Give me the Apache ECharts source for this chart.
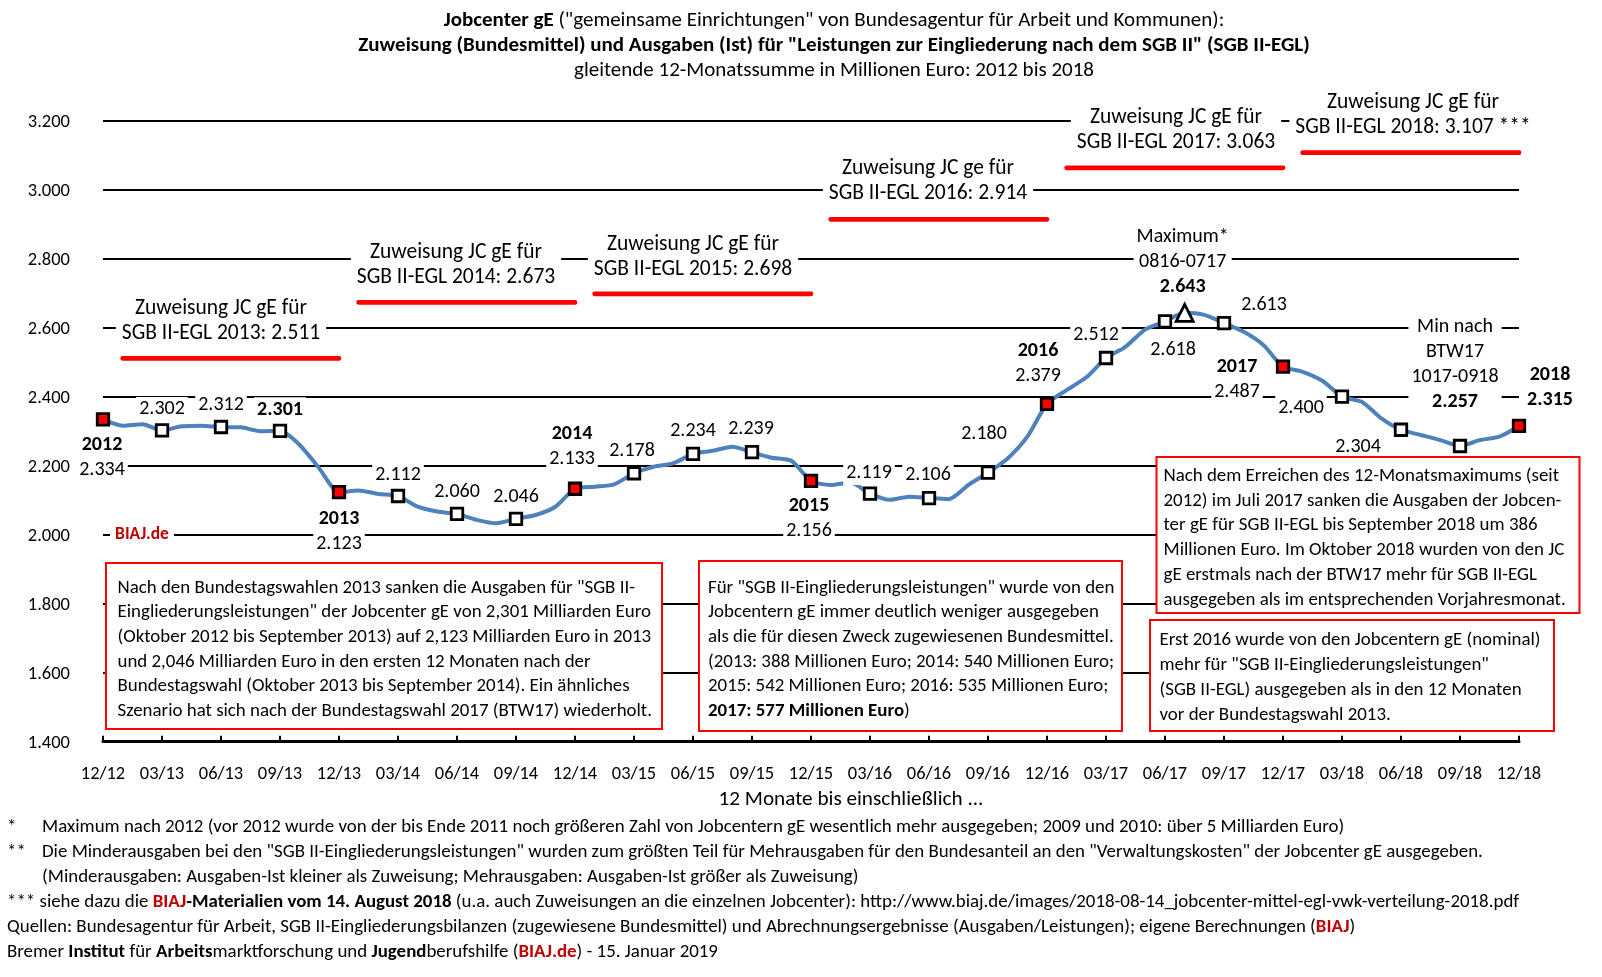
<!DOCTYPE html>
<html><head><meta charset="utf-8">
<script src="https://cdn.jsdelivr.net/npm/echarts@6/dist/echarts.min.js"></script>
<style>html,body{margin:0;padding:0;background:#fff}#c{width:1602px;height:977px}</style>
</head><body><div id="c"></div>
<script>
// ---------- DATA ----------
const months = ['12/12','01/13','02/13','03/13','04/13','05/13','06/13','07/13','08/13','09/13','10/13','11/13',
'12/13','01/14','02/14','03/14','04/14','05/14','06/14','07/14','08/14','09/14','10/14','11/14',
'12/14','01/15','02/15','03/15','04/15','05/15','06/15','07/15','08/15','09/15','10/15','11/15',
'12/15','01/16','02/16','03/16','04/16','05/16','06/16','07/16','08/16','09/16','10/16','11/16',
'12/16','01/17','02/17','03/17','04/17','05/17','06/17','07/17','08/17','09/17','10/17','11/17',
'12/17','01/18','02/18','03/18','04/18','05/18','06/18','07/18','08/18','09/18','10/18','11/18','12/18'];
const ausgaben = [2334,2316,2320,2302,2314,2316,2312,2311,2300,2301,2260,2192,
2123,2128,2118,2112,2081,2067,2060,2043,2033,2046,2057,2081,
2133,2139,2146,2178,2197,2207,2234,2243,2255,2239,2223,2214,
2156,2144,2151,2119,2101,2110,2106,2103,2144,2180,2221,2284,
2379,2419,2456,2512,2545,2595,2618,2643,2637,2613,2588,2550,
2487,2472,2446,2400,2385,2337,2304,2289,2274,2257,2274,2284,2315];
const zuweisungYears = ['2013','2014','2015','2016','2017','2018'];
const zuweisungValues = [2511,2673,2698,2914,3063,3107];
const zuweisungSuffix = ['','','','','',' ***'];
const zuweisungPrefix = ['Zuweisung JC gE für','Zuweisung JC gE für','Zuweisung JC gE für','Zuweisung JC ge für','Zuweisung JC gE für','Zuweisung JC gE für'];
const yearMarkers = {'12/12':'2012','12/13':'2013','12/14':'2014','12/15':'2015','12/16':'2016','12/17':'2017','12/18':'2018'};
const textNotes = {'07/17':['Maximum*','0816-0717'],'09/18':['Min nach','BTW17','1017-0918']};
const boldValues = ['09/13','07/17','09/18','12/18'];
const maxMonth = '07/17';
const yTicks = [1400,1600,1800,2000,2200,2400,2600,2800,3000,3200];

// ---------- LAYOUT / STYLE ----------
const FF = "Carlito,'Liberation Sans Narrow',sans-serif";
const labelOffset = {
 '12/12':[-1,38],'03/13':[0,-21],'06/13':[0,-22],'09/13':[0,-21],'12/13':[0,39],
 '03/14':[0,-21],'06/14':[0,-22],'09/14':[0,-22],'12/14':[-3,-42],'03/15':[-2,-22],
 '06/15':[0,-23],'09/15':[-1,-23],'12/15':[-2,38],'03/16':[-1,-21],'06/16':[-1,-23],
 '09/16':[-4,-39],'12/16':[-9,-40],'03/17':[-10,-23],'06/17':[8,29],'07/17':[-2,-51],
 '09/17':[40,-18],'12/17':[-46,13],'03/18':[-41,11],'06/18':[-43,17],'09/18':[-5,-81],'12/18':[31,-38]
};
const fmt = v => (v/1000).toFixed(3);

const mainData = ausgaben.map((v,i)=>{
  const cat = months[i];
  const isQ = (i % 3 === 0) || cat === maxMonth;
  if (!isQ) return {value:v, symbol:'none', symbolSize:0, label:{show:false}};
  const lines = [];
  if (yearMarkers[cat]) lines.push('{y|'+yearMarkers[cat]+'}');
  if (textNotes[cat]) textNotes[cat].forEach(t=>lines.push('{n|'+t+'}'));
  lines.push((boldValues.includes(cat)?'{y|':'{n|')+fmt(v)+'}');
  const isDec = !!yearMarkers[cat];
  return {
    value:v,
    symbol: cat===maxMonth ? 'triangle' : 'rect',
    symbolSize: cat===maxMonth ? 17 : 11.5,
    itemStyle:{color: isDec ? '#ff0000' : '#ffffff', borderColor:'#000', borderWidth:2.8},
    label:{show:true, position:'inside', formatter: lines.join('\n'),
      backgroundColor:'#fff', padding:[0,3], lineHeight:25}
  };
});

const series = [{
  type:'line', data: mainData, smooth:0.25, z:5, showSymbol:true, showAllSymbol:true,
  lineStyle:{color:'#4f81bd', width:4},
  label:{rich:{y:{fontFamily:FF,fontSize:20,fontWeight:'bold',color:'#000',lineHeight:25},
               n:{fontFamily:FF,fontSize:20,color:'#000',lineHeight:25}}},
  labelLayout:function(p){ const o = labelOffset[months[p.dataIndex]] || [0,-22]; return {dx:o[0], dy:o[1]}; },
  emphasis:{disabled:true}, animation:false
}];
zuweisungYears.forEach((yr,k)=>{
  const d = months.map((m,i)=> (i>=k*12+1 && i<=k*12+12) ? zuweisungValues[k] : null);
  series.push({type:'line', data:d, symbol:'none', z:3, lineStyle:{color:'#ff0000', width:4.8, cap:'round'}, emphasis:{disabled:true}, animation:false});
});

function T(x,y,text,o){ o=o||{};
  return {type:'text', x:x, y:y, z:o.z||50, silent:true, style:Object.assign({text:text, fontFamily:FF, fontSize:o.fs||18, fontWeight:o.fw||'normal',
   fill:o.fill||'#000', align:o.align||'left', verticalAlign:o.va||'middle', lineHeight:o.lh||25}, o.bg?{backgroundColor:'#fff', padding:o.pad||[2,6]}:{}, o.rich?{rich:o.rich}:{})};
}
function RF(fs){ return {b:{fontFamily:FF,fontSize:fs,fontWeight:'bold',fill:'#000'}, r:{fontFamily:FF,fontSize:fs,fontWeight:'bold',fill:'#c00000'}}; }

const zuwPos = [[221,321],[456,265],[693,257],[928,181],[1176,130],[1413,115]];
const graphics = [];
graphics.push(T(834,20.5,'{b|Jobcenter gE} ("gemeinsame Einrichtungen" von Bundesagentur für Arbeit und Kommunen):',{align:'center',fs:21,rich:RF(21)}));
graphics.push(T(834,45.5,'Zuweisung (Bundesmittel) und Ausgaben (Ist) für "Leistungen zur Eingliederung nach dem SGB II" (SGB II-EGL)',{align:'center',fw:'bold',fs:21}));
graphics.push(T(834,71,'gleitende 12-Monatssumme in Millionen Euro: 2012 bis 2018',{align:'center',fs:21}));
zuweisungYears.forEach((yr,k)=>{
  graphics.push(T(zuwPos[k][0],zuwPos[k][1], zuweisungPrefix[k]+'\nSGB II-EGL '+yr+': '+fmt(zuweisungValues[k])+zuweisungSuffix[k], {align:'center',bg:true,lh:25,pad:[1,6],fs:21.5}));
});
graphics.push(T(142,535,'BIAJ.de',{align:'center',fw:'bold',fill:'#c00000',fs:17.5,bg:true,pad:[1,5]}));
graphics.push(T(851,800,'12 Monate bis einschließlich ...',{align:'center',fs:21.2}));

function box(x,y,w,h,tx,ty,text,lh,fs){
  graphics.push({type:'rect', z:40, silent:true, shape:{x:x,y:y,width:w,height:h}, style:{fill:'#fff', stroke:'#ff0000', lineWidth:2}});
  graphics.push(T(tx,ty,text,{va:'top',lh:lh,fs:fs,rich:RF(fs)}));
}
box(106,563,556,166,117.5,575.5,
'Nach den Bundestagswahlen 2013 sanken die Ausgaben für "SGB II-\nEingliederungsleistungen" der Jobcenter gE von 2,301 Milliarden Euro\n(Oktober 2012 bis September 2013) auf 2,123 Milliarden Euro in 2013\nund 2,046 Milliarden Euro in den ersten 12 Monaten nach der\nBundestagswahl (Oktober 2013 bis September 2014). Ein ähnliches\nSzenario hat sich nach der Bundestagswahl 2017 (BTW17) wiederholt.',24.7,18.9);
box(699,561,423,170,708,575.5,
'Für "SGB II-Eingliederungsleistungen" wurde von den\nJobcentern gE immer deutlich weniger ausgegeben\nals die für diesen Zweck zugewiesenen Bundesmittel.\n(2013: 388 Millionen Euro; 2014: 540 Millionen Euro;\n2015: 542 Millionen Euro; 2016: 535 Millionen Euro;\n{b|2017: 577 Millionen Euro})',24.7,18.9);
box(1156.5,457,423,156,1163.5,463.5,
'Nach dem Erreichen des 12-Monatsmaximums (seit\n2012) im Juli 2017 sanken die Ausgaben der Jobcen-\nter gE für SGB II-EGL bis September 2018 um 386\nMillionen Euro. Im Oktober 2018 wurden von den JC\ngE erstmals nach der BTW17 mehr für SGB II-EGL\nausgegeben als im entsprechenden Vorjahresmonat.',24.9,18.9);
box(1150,620,404,111,1159.5,628.3,
'Erst 2016 wurde von den Jobcentern gE (nominal)\nmehr für "SGB II-Eingliederungsleistungen"\n(SGB II-EGL) ausgegeben als in den 12 Monaten\nvor der Bundestagswahl 2013.',24.8,18.9);

const fs = 18.9;
graphics.push(T(7,827.5,'*',{fs:fs}));
graphics.push(T(42,827.5,'Maximum nach 2012 (vor 2012 wurde von der bis Ende 2011 noch größeren Zahl von Jobcentern gE wesentlich mehr ausgegeben; 2009 und 2010: über 5 Milliarden Euro)',{fs:fs}));
graphics.push(T(7,852,'**',{fs:fs}));
graphics.push(T(42,852,'Die Minderausgaben bei den "SGB II-Eingliederungsleistungen" wurden zum größten Teil für Mehrausgaben für den Bundesanteil an den "Verwaltungskosten" der Jobcenter gE ausgegeben.',{fs:fs}));
graphics.push(T(42,877.5,'(Minderausgaben: Ausgaben-Ist kleiner als Zuweisung; Mehrausgaben: Ausgaben-Ist größer als Zuweisung)',{fs:fs}));
graphics.push(T(7,902,'*** siehe dazu die {r|BIAJ}{b|-Materialien vom 14. August 2018} (u.a. auch Zuweisungen an die einzelnen Jobcenter): http://www.biaj.de/images/2018-08-14_jobcenter-mittel-egl-vwk-verteilung-2018.pdf',{fs:fs,rich:RF(fs)}));
graphics.push(T(7,927.5,'Quellen: Bundesagentur für Arbeit, SGB II-Eingliederungsbilanzen (zugewiesene Bundesmittel) und Abrechnungsergebnisse (Ausgaben/Leistungen); eigene Berechnungen ({r|BIAJ})',{fs:fs,rich:RF(fs)}));
graphics.push(T(7,952,'Bremer {b|Institut} für {b|Arbeits}marktforschung und {b|Jugend}berufshilfe ({r|BIAJ.de}) - 15. Januar 2019',{fs:fs,rich:RF(fs)}));

const chart = echarts.init(document.getElementById('c'), null, {renderer:'canvas'});
chart.setOption({
  animation:false,
  grid:{left:103, right:83, top:120.6, bottom:235.3, containLabel:false},
  xAxis:{type:'category', data:months, boundaryGap:false,
    axisLine:{lineStyle:{color:'#000', width:3}},
    axisTick:{interval:2, inside:true, length:6, lineStyle:{color:'#000', width:2}},
    axisLabel:{interval:2, margin:24, fontFamily:FF, fontSize:18.4, color:'#000'},
    splitLine:{show:false}},
  yAxis:{type:'value', min:yTicks[0], max:yTicks[yTicks.length-1], interval:200,
    axisLine:{show:false}, axisTick:{show:false},
    axisLabel:{formatter:v=>'{a|'+fmt(v)+'}', margin:33, color:'#000',
      rich:{a:{fontFamily:FF, fontSize:18.5, color:'#000', padding:[3,0,0,0]}}},
    splitLine:{lineStyle:{color:'#000', width:2}}},
  series: series,
  graphic: graphics
});
</script></body></html>
